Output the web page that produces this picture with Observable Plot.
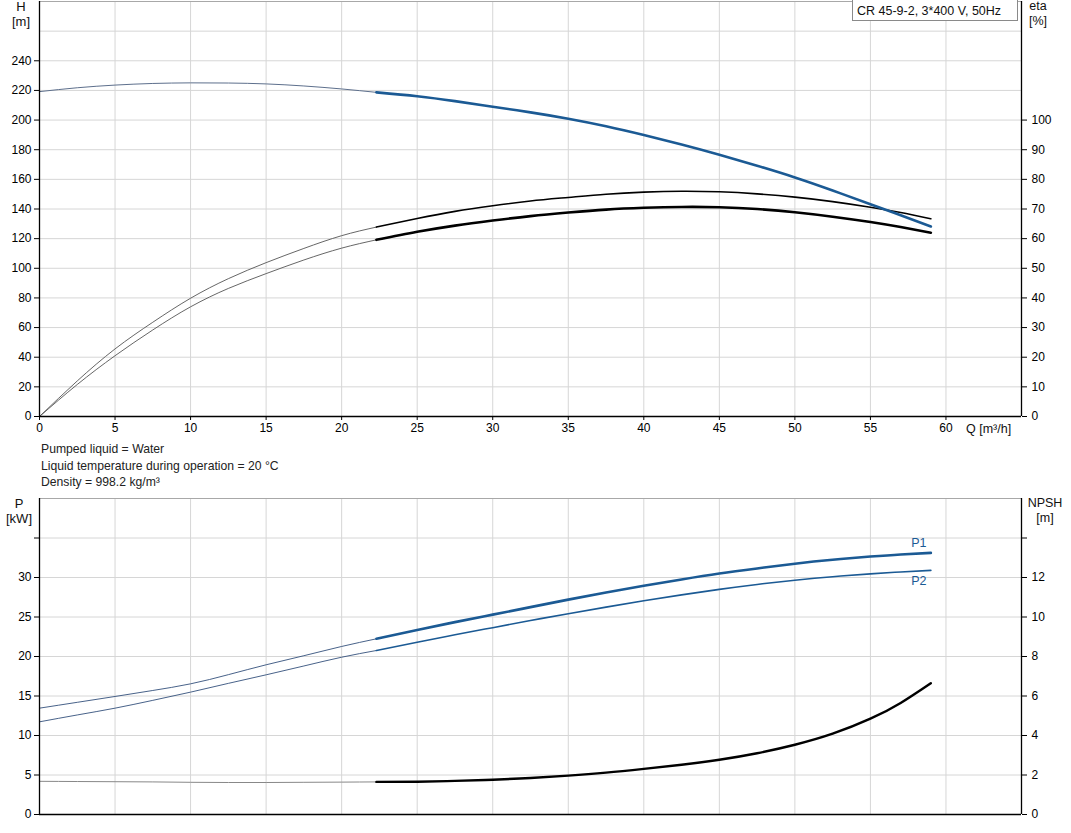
<!DOCTYPE html>
<html><head><meta charset="utf-8">
<script src="https://cdn.jsdelivr.net/npm/d3@7"></script>
<script src="https://cdn.jsdelivr.net/npm/@observablehq/plot@0.6"></script>
<style>
body{margin:0;background:#fff;font-family:"Liberation Sans",Arial,sans-serif;}
#wrap{position:relative;width:1071px;height:833px;overflow:hidden;}
.abs{position:absolute;font-size:12px;color:#111;line-height:15px;white-space:nowrap;}
.ctr{text-align:center;}
svg{position:absolute;left:0;}
</style></head><body><div id="wrap"></div>
<script>
// ---------- data ----------
const Q_THIN  = [0, 2.5, 5, 7.5, 10, 12.5, 15, 17.5, 20, 22.3];
const Q_THICK = [22.3, 25, 27.5, 30, 32.5, 35, 37.5, 40, 42.5, 45, 47.5, 50, 52.5, 55, 57, 59];

// head H [m]
const H_THIN  = [219.2, 221.8, 223.6, 224.7, 225.1, 225.0, 224.4, 223.0, 221.0, 218.7];
const H_THICK = [218.7, 216.1, 212.8, 209.0, 205.2, 200.9, 195.8, 189.9, 183.5, 176.6, 169.2, 161.3, 152.5, 143.2, 135.8, 128.2];

// efficiency eta [%] (upper = pump, lower = total)
const ETA1_THIN  = [0, 12.0, 22.8, 31.8, 39.9, 46.5, 51.9, 56.7, 61.0, 63.9];
const ETA1_THICK = [63.9, 66.8, 69.2, 71.1, 72.7, 73.9, 75.0, 75.7, 76.0, 75.8, 75.1, 74.0, 72.5, 70.6, 68.8, 66.7];
const ETA2_THIN  = [0, 10.8, 20.5, 29.2, 37.0, 43.2, 48.2, 52.8, 56.8, 59.6];
const ETA2_THICK = [59.6, 62.3, 64.4, 66.1, 67.6, 68.8, 69.8, 70.4, 70.7, 70.6, 70.0, 68.9, 67.4, 65.6, 63.9, 62.0];

// power P [kW]
const P1_THIN  = [13.46, 14.2, 14.94, 15.7, 16.54, 17.7, 18.95, 20.1, 21.27, 22.24];
const P1_THICK = [22.24, 23.35, 24.35, 25.3, 26.25, 27.2, 28.1, 28.95, 29.75, 30.5, 31.15, 31.75, 32.25, 32.65, 32.92, 33.12];
const P2_THIN  = [11.73, 12.6, 13.46, 14.45, 15.49, 16.6, 17.68, 18.8, 19.91, 20.76];
const P2_THICK = [20.76, 21.8, 22.75, 23.65, 24.55, 25.42, 26.25, 27.05, 27.8, 28.5, 29.12, 29.65, 30.1, 30.46, 30.7, 30.9];

// NPSH [m]
const NPSH_THIN  = [1.68, 1.67, 1.66, 1.65, 1.63, 1.62, 1.62, 1.63, 1.64, 1.65];
const NPSH_THICK = [1.65, 1.66, 1.70, 1.76, 1.85, 1.97, 2.12, 2.31, 2.52, 2.77, 3.10, 3.53, 4.09, 4.85, 5.65, 6.65];

// axes / ticks
const Q_DOMAIN = [0, 65];
const Q_TICKS = [0, 5, 10, 15, 20, 25, 30, 35, 40, 45, 50, 55, 60];
const H_DOMAIN = [0, 280];
const H_TICKS = [0, 20, 40, 60, 80, 100, 120, 140, 160, 180, 200, 220, 240];
const H_GRID = [20, 40, 60, 80, 100, 120, 140, 160, 180, 200, 220, 240, 260];
const ETA_TICKS = [0, 10, 20, 30, 40, 50, 60, 70, 80, 90, 100];
const ETA_PER_H = 0.5;
const P_DOMAIN = [0, 40];
const P_TICKS = [0, 5, 10, 15, 20, 25, 30, 35];
const P_LABELED = [0, 5, 10, 15, 20, 25, 30];
const NPSH_PER_P = 0.4;

const TITLE = "CR 45-9-2, 3*400 V, 50Hz";
const INFO = ["Pumped liquid = Water", "Liquid temperature during operation = 20 °C", "Density = 998.2 kg/m³"];

// ---------- helpers ----------
const rows = (qs, vs, f = v => v) => qs.map((q, i) => ({q, v: f(vs[i])}));
const BLUE = "#1b5a94";
const GRID = "#d6d6d6";
const FONT = "Liberation Sans, Arial, sans-serif";
const CURVE = "natural";
const wrap = document.getElementById("wrap");

// ---------- top chart: H / eta ----------
const topPlot = Plot.plot({
  width: 1071, height: 440,
  marginLeft: 39, marginRight: 50, marginTop: 1, marginBottom: 24,
  x: {domain: Q_DOMAIN},
  y: {domain: H_DOMAIN},
  style: {fontFamily: FONT, fontSize: "12px", color: "#000", background: "transparent", overflow: "visible"},
  marks: [
    Plot.ruleX(Q_TICKS.slice(1), {stroke: GRID, strokeWidth: 1}),
    Plot.ruleY(H_GRID, {stroke: GRID, strokeWidth: 1}),
    Plot.ruleY([H_DOMAIN[1]], {stroke: "#a8a8a8"}),
    Plot.line(rows(Q_THIN, ETA1_THIN, v => v / ETA_PER_H), {x: "q", y: "v", stroke: "#555", strokeWidth: 0.9, curve: CURVE}),
    Plot.line(rows(Q_THIN, ETA2_THIN, v => v / ETA_PER_H), {x: "q", y: "v", stroke: "#555", strokeWidth: 0.9, curve: CURVE}),
    Plot.line(rows(Q_THICK, ETA1_THICK, v => v / ETA_PER_H), {x: "q", y: "v", stroke: "#000", strokeWidth: 1.6, curve: CURVE}),
    Plot.line(rows(Q_THICK, ETA2_THICK, v => v / ETA_PER_H), {x: "q", y: "v", stroke: "#000", strokeWidth: 2.6, curve: CURVE}),
    Plot.line(rows(Q_THIN, H_THIN), {x: "q", y: "v", stroke: "#5d6f8c", strokeWidth: 1, curve: CURVE}),
    Plot.line(rows(Q_THICK, H_THICK), {x: "q", y: "v", stroke: BLUE, strokeWidth: 2.6, curve: CURVE}),
    Plot.axisX({ticks: Q_TICKS, tickSize: 4, tickPadding: 3, label: null, stroke: "#000"}),
    Plot.axisY({ticks: H_TICKS, anchor: "left", tickSize: 5, tickPadding: 3, label: null}),
    Plot.axisY({ticks: ETA_TICKS.map(e => e / ETA_PER_H), anchor: "right", tickSize: 5, tickPadding: 5, tickFormat: d => d * ETA_PER_H, label: null}),
    Plot.ruleX([Q_DOMAIN[0], Q_DOMAIN[1]], {stroke: "#000", strokeWidth: 1.3}),
    Plot.ruleY([0], {stroke: "#000", strokeWidth: 1.3})
  ]
});
topPlot.style.top = "0px";
wrap.appendChild(topPlot);

// ---------- bottom chart: P / NPSH ----------
const p1End = {q: Q_THICK[Q_THICK.length - 1], v: P1_THICK[P1_THICK.length - 1]};
const p2End = {q: Q_THICK[Q_THICK.length - 1], v: P2_THICK[P2_THICK.length - 1]};
const botPlot = Plot.plot({
  width: 1071, height: 327,
  marginLeft: 39, marginRight: 50, marginTop: 1, marginBottom: 10,
  x: {domain: Q_DOMAIN, axis: null},
  y: {domain: P_DOMAIN},
  style: {fontFamily: FONT, fontSize: "12px", color: "#000", background: "transparent", overflow: "visible"},
  marks: [
    Plot.ruleX(Q_TICKS.slice(1), {stroke: GRID, strokeWidth: 1}),
    Plot.ruleY(P_TICKS.slice(1), {stroke: GRID, strokeWidth: 1}),
    Plot.ruleY([P_DOMAIN[1]], {stroke: "#a8a8a8"}),
    Plot.line(rows(Q_THIN, NPSH_THIN, v => v / NPSH_PER_P), {x: "q", y: "v", stroke: "#888", strokeWidth: 1, curve: CURVE}),
    Plot.line(rows(Q_THICK, NPSH_THICK, v => v / NPSH_PER_P), {x: "q", y: "v", stroke: "#000", strokeWidth: 2.4, curve: CURVE}),
    Plot.line(rows(Q_THIN, P1_THIN), {x: "q", y: "v", stroke: "#33507c", strokeWidth: 0.9, curve: CURVE}),
    Plot.line(rows(Q_THIN, P2_THIN), {x: "q", y: "v", stroke: "#33507c", strokeWidth: 0.9, curve: CURVE}),
    Plot.line(rows(Q_THICK, P1_THICK), {x: "q", y: "v", stroke: BLUE, strokeWidth: 2.6, curve: CURVE}),
    Plot.line(rows(Q_THICK, P2_THICK), {x: "q", y: "v", stroke: BLUE, strokeWidth: 1.6, curve: CURVE}),
    Plot.text([p1End], {x: "q", y: "v", text: () => "P1", dx: -12, dy: -10, fill: BLUE, fontSize: 12.5}),
    Plot.text([p2End], {x: "q", y: "v", text: () => "P2", dx: -12, dy: 11, fill: BLUE, fontSize: 12.5}),
    Plot.axisY({ticks: P_TICKS, anchor: "left", tickSize: 5, tickPadding: 3, tickFormat: d => P_LABELED.includes(d) ? d : "", label: null}),
    Plot.axisY({ticks: P_TICKS, anchor: "right", tickSize: 5, tickPadding: 5, tickFormat: d => P_LABELED.includes(d) ? Math.round(d * NPSH_PER_P) : "", label: null}),
    Plot.ruleX([Q_DOMAIN[0], Q_DOMAIN[1]], {stroke: "#000", strokeWidth: 1.3}),
    Plot.ruleY([0], {stroke: "#000", strokeWidth: 1.3})
  ]
});
botPlot.style.top = "497px";
wrap.appendChild(botPlot);

// ---------- text overlays ----------
function addText(html, css, cls = "abs") {
  const d = document.createElement("div");
  d.className = cls;
  d.innerHTML = html;
  Object.assign(d.style, css);
  wrap.appendChild(d);
  return d;
}
addText("H<br>[m]", {left: "0px", width: "42px", top: "-1px", fontSize: "13px"}, "abs ctr");
addText("eta<br>[%]", {left: "1018px", width: "40px", top: "-1px", fontSize: "12.5px"}, "abs ctr");
addText("P<br>[kW]", {left: "0px", width: "38px", top: "496px", fontSize: "13px"}, "abs ctr");
addText("NPSH<br>[m]", {left: "1022px", width: "46px", top: "496px", fontSize: "12.5px"}, "abs ctr");
addText("Q [m³/h]", {left: "966px", top: "422px", fontSize: "12.5px"});
addText(INFO.join("<br>"), {left: "41px", top: "441px", lineHeight: "16.5px", fontSize: "12.2px", color: "#222"});
addText(TITLE, {left: "852px", top: "-1px", width: "160px", height: "20px", lineHeight: "22px",
  paddingLeft: "4px", border: "1px solid #8a8a8a", background: "#fff", fontSize: "12.5px"});
</script></body></html>
